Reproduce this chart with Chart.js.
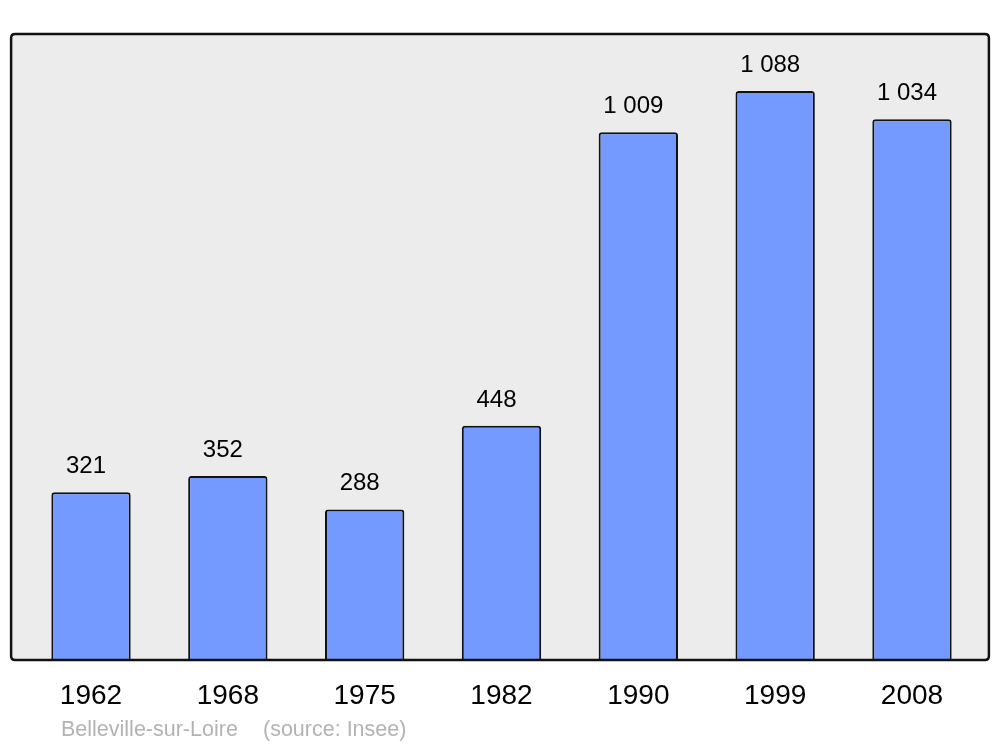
<!DOCTYPE html>
<html>
<head>
<meta charset="utf-8">
<script src="https://cdn.jsdelivr.net/npm/chart.js@4"></script>
<style>
  html, body { margin: 0; padding: 0; background: #fff; }
  #wrap { width: 1000px; height: 747px; }
</style>
</head>
<body>
<div id="wrap"><canvas id="chart"></canvas></div>
<script>
(function () {
    "use strict";

    // Data
    var years = ["1962", "1968", "1975", "1982", "1990", "1999", "2008"];
    var population = [321, 352, 288, 448, 1009, 1088, 1034];
    var commune = "Belleville-sur-Loire";
    var source = "(source: Insee)";

    function fmt(n) {
        return String(n).replace(/\B(?=(\d{3})+(?!\d))/g, " ");
    }

    function roundRect(ctx, x, y, w, h, r) {
        ctx.beginPath();
        ctx.moveTo(x + r, y);
        ctx.lineTo(x + w - r, y);
        ctx.quadraticCurveTo(x + w, y, x + w, y + r);
        ctx.lineTo(x + w, y + h - r);
        ctx.quadraticCurveTo(x + w, y + h, x + w - r, y + h);
        ctx.lineTo(x + r, y + h);
        ctx.quadraticCurveTo(x, y + h, x, y + h - r);
        ctx.lineTo(x, y + r);
        ctx.quadraticCurveTo(x, y, x + r, y);
        ctx.closePath();
    }

    // grey panel with black frame
    var framePlugin = {
        id: "frame",
        beforeDatasetsDraw: function (chart) {
            var a = chart.chartArea, ctx = chart.ctx;
            ctx.save();
            roundRect(ctx, a.left - 11.5, a.top, a.right - a.left + 20, a.bottom - a.top, 4);
            ctx.fillStyle = "#ececec";
            ctx.fill();
            ctx.restore();
        },
        afterDatasetsDraw: function (chart) {
            var a = chart.chartArea, ctx = chart.ctx;
            ctx.save();
            roundRect(ctx, a.left - 11.5, a.top, a.right - a.left + 20, a.bottom - a.top, 4);
            ctx.lineWidth = 2.5;
            ctx.strokeStyle = "#111";
            ctx.stroke();

            // value labels
            var meta = chart.getDatasetMeta(0);
            ctx.font = "24px 'Liberation Sans', Arial, sans-serif";
            ctx.fillStyle = "#000";
            ctx.textAlign = "center";
            ctx.textBaseline = "alphabetic";
            meta.data.forEach(function (bar, i) {
                ctx.fillText(fmt(population[i]), bar.x - 5, bar.y - 19);
            });

            // footer
            ctx.font = "21.5px 'Liberation Sans', Arial, sans-serif";
            ctx.fillStyle = "#b3b3b3";
            ctx.textAlign = "left";
            ctx.textBaseline = "middle";
            ctx.fillText(commune, 61, 730);
            ctx.fillText(source, 263, 730);
            ctx.restore();
        }
    };

    new Chart(document.getElementById("chart"), {
        type: "bar",
        data: {
            labels: years,
            datasets: [{
                data: population,
                backgroundColor: "#7499ff",
                borderColor: "#111",
                borderWidth: 2,
                borderRadius: 3,
                borderSkipped: "start",
                barPercentage: 0.58,
                categoryPercentage: 1
            }]
        },
        options: {
            responsive: true,
            maintainAspectRatio: false,
            animation: false,
            layout: { padding: { left: 22.6, right: 19.6, top: 34, bottom: 0 } },
            plugins: {
                legend: { display: false },
                tooltip: { enabled: false }
            },
            scales: {
                x: {
                    grid: { display: false, drawTicks: false },
                    border: { display: false },
                    ticks: {
                        color: "#000",
                        padding: 19,
                        font: { family: "'Liberation Sans', Arial, sans-serif", size: 28 }
                    },
                    afterFit: function (scale) { scale.height = 87; }
                },
                y: {
                    display: false,
                    min: 0,
                    max: 1197
                }
            }
        },
        plugins: [framePlugin]
    });
})();
</script>
</body>
</html>
